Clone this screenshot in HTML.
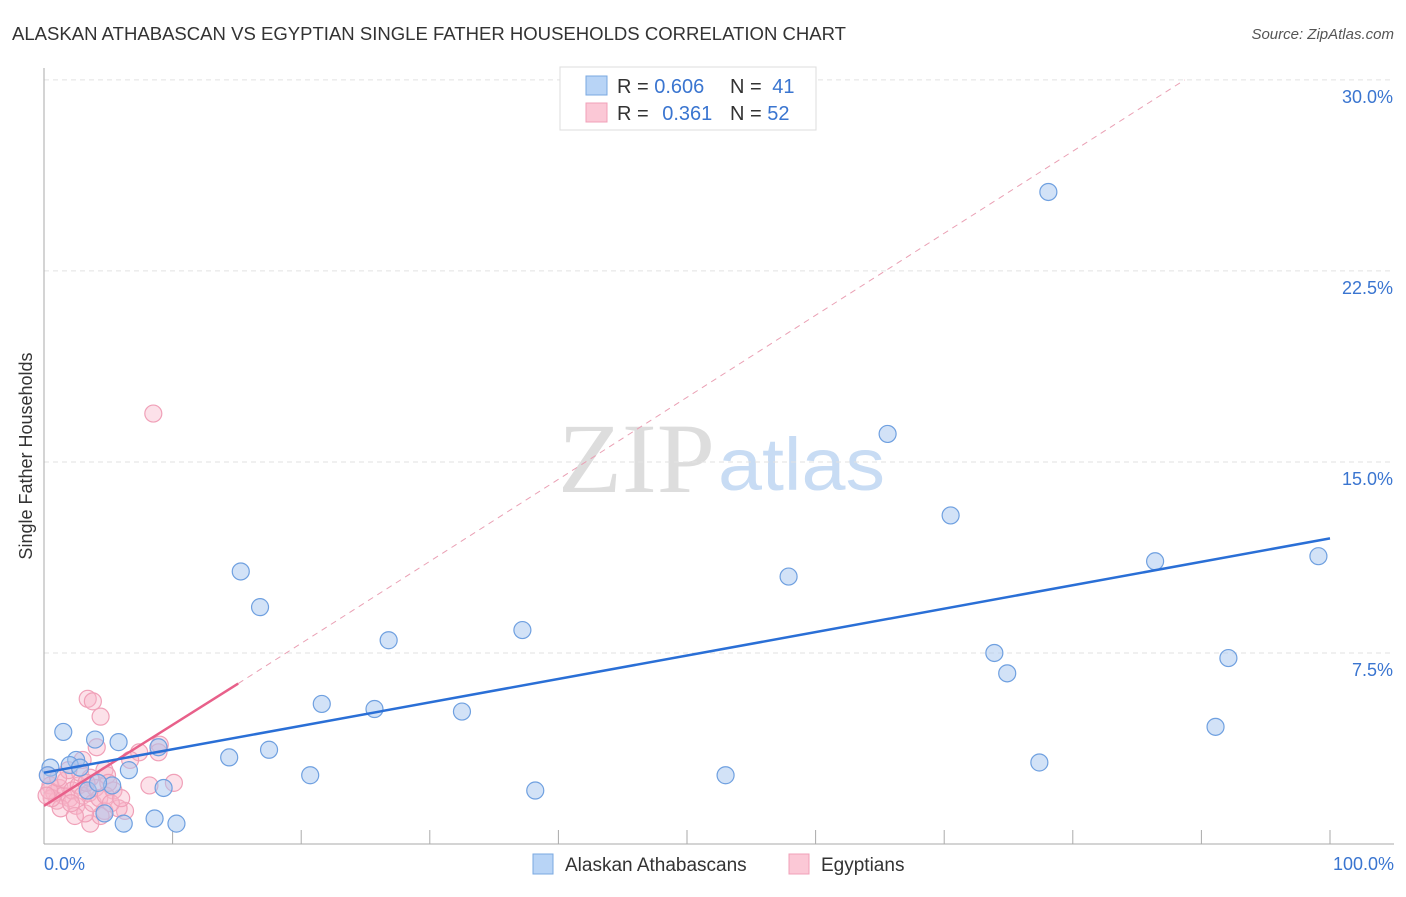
<!DOCTYPE html>
<html><head><meta charset="utf-8"><style>
body{margin:0;background:#fff;font-family:"Liberation Sans",sans-serif;}
svg text{font-family:"Liberation Sans",sans-serif;}
</style></head><body>
<svg id="chart" width="1406" height="892" viewBox="0 0 1406 892">
<text x="12" y="40" font-size="18" fill="#333" textLength="834" lengthAdjust="spacingAndGlyphs">ALASKAN ATHABASCAN VS EGYPTIAN SINGLE FATHER HOUSEHOLDS CORRELATION CHART</text>
<text x="1394" y="39" font-size="15" fill="#555" font-style="italic" text-anchor="end">Source: ZipAtlas.com</text>
<text x="34" y="456" font-size="18" fill="#333" text-anchor="middle" transform="rotate(-90 34 456)" dy="-2">Single Father Households</text>
<g>
<text x="558" y="492" font-size="100" fill="#ddd" textLength="157" lengthAdjust="spacingAndGlyphs" style="font-family:'Liberation Serif',serif">ZIP</text>
<text x="718" y="490" font-size="74" fill="#c8dcf4" textLength="167" lengthAdjust="spacingAndGlyphs">atlas</text>
</g>
<g id="grid"></g><g id="axes"></g><g id="marks"></g>
<g>
<rect x="560" y="67" width="256" height="63" fill="#fff" stroke="#ddd"/>
<rect x="586" y="76" width="21" height="19" fill="#b8d4f6" stroke="#7aa8e0"/>
<rect x="586" y="103" width="21" height="19" fill="#fbc8d6" stroke="#f0a0b8"/>
<text x="617" y="93" font-size="20" fill="#333">R = <tspan fill="#3a75d0">0.606</tspan></text>
<text x="730" y="93" font-size="20" fill="#333">N = <tspan fill="#3a75d0" dx="5">41</tspan></text>
<text x="617" y="120" font-size="20" fill="#333">R = <tspan fill="#3a75d0" dx="8">0.361</tspan></text>
<text x="730" y="120" font-size="20" fill="#333">N = <tspan fill="#3a75d0">52</tspan></text>
</g>
<g>
<rect x="533" y="854" width="20" height="20" fill="#b8d4f6" stroke="#7aa8e0"/>
<text x="565" y="871" font-size="19" fill="#333">Alaskan Athabascans</text>
<rect x="789" y="854" width="20" height="20" fill="#fbc8d6" stroke="#f0a0b8"/>
<text x="821" y="871" font-size="19" fill="#333">Egyptians</text>
</g>
</svg>
<script>
const yTicks=[7.5,15,22.5,30];
const yTickLabels=["7.5%","15.0%","22.5%","30.0%"];
const xTicks=[0,10,20,30,40,50,60,70,80,90,100];
const blueX=[78.1,65.6,70.5,86.4,99.1,57.9,15.3,16.8,26.8,37.2,73.9,74.9,92.1,21.6,25.7,32.5,91.1,14.4,17.5,20.7,53.0,77.4,38.2,1.5,3.97,5.8,8.9,6.6,2.5,0.5,2.0,2.8,3.4,5.3,4.2,9.3,4.7,6.2,8.6,10.3,0.3];
const blueY=[25.6,16.1,12.9,11.1,11.3,10.5,10.7,9.3,8.0,8.4,7.5,6.7,7.3,5.5,5.3,5.2,4.6,3.4,3.7,2.7,2.7,3.2,2.1,4.4,4.1,4.0,3.8,2.9,3.3,3.0,3.1,3.0,2.1,2.3,2.4,2.2,1.2,0.8,1.0,0.8,2.7];
const pinkX=[8.5,3.4,3.8,4.4,4.1,9.0,8.9,7.4,6.7,3.0,4.7,4.9,8.2,10.1,5.4,6.3,4.7,3.6,4.4,5.8,0.3,0.5,0.8,1.0,1.2,1.5,1.7,2.0,2.2,2.5,2.7,3.0,3.2,3.5,3.8,4.0,4.3,2.8,1.3,0.6,1.9,2.4,3.6,4.8,5.2,0.4,1.1,2.1,3.3,5.0,6.0,0.2];
const pinkY=[16.9,5.7,5.6,5.0,3.8,3.9,3.6,3.6,3.3,3.3,2.9,2.7,2.3,2.4,2.1,1.3,1.3,0.8,1.1,1.4,2.7,2.3,2.0,1.7,2.2,1.9,2.5,1.8,2.1,1.5,2.3,1.9,1.2,2.0,1.6,2.2,1.8,2.8,1.4,1.8,2.9,1.1,2.6,1.9,1.6,2.1,2.6,1.6,2.4,2.4,1.8,1.9];
const blueLine=[[0,2.8],[100,12.0]];
const pinkLine=[[0,1.5],[15.1,6.3]];
const pinkDash=[[15.1,6.3],[88.7,30]];
const X=v=>44+v*12.86, Y=v=>844-v*25.47;
const NS="http://www.w3.org/2000/svg";
function mk(p,t,a){const e=document.createElementNS(NS,t);for(const k in a)e.setAttribute(k,a[k]);p.appendChild(e);return e;}
const grid=document.getElementById('grid'),axes=document.getElementById('axes'),marks=document.getElementById('marks');
yTicks.forEach((v,i)=>{
 const l=mk(grid,'line',{x1:44,x2:1394,y1:Y(v),y2:Y(v),stroke:'#e2e2e2','stroke-dasharray':'5,4'});
 
 
 const t=mk(axes,'text',{x:1393,y:Y(v)+23,'font-size':18,fill:'#3a75d0','text-anchor':'end'});t.textContent=yTickLabels[i];
 
 
});
const ax=mk(axes,'line',{x1:44,x2:44,y1:68,y2:844,stroke:'#aaa'});


const bx=mk(axes,'line',{x1:44,x2:1394,y1:844,y2:844,stroke:'#aaa'});


xTicks.forEach(v=>{const t=mk(axes,'line',{x1:X(v),x2:X(v),y1:830,y2:844,stroke:'#aaa'});
 
 });
const xl0=mk(axes,'text',{x:44,y:870,'font-size':18,fill:'#3a75d0'});xl0.textContent='0.0%';


const xl1=mk(axes,'text',{x:1394,y:870,'font-size':18,fill:'#3a75d0','text-anchor':'end'});xl1.textContent='100.0%';


pinkX.forEach((v,i)=>{const c=mk(marks,'circle',{cx:X(v),cy:Y(pinkY[i]),r:8.5,fill:'rgba(248,180,200,0.4)',stroke:'#f0a0b8','stroke-width':1.2});
 
 });
blueX.forEach((v,i)=>{const c=mk(marks,'circle',{cx:X(v),cy:Y(blueY[i]),r:8.5,fill:'rgba(165,198,240,0.5)',stroke:'#6fa0e0','stroke-width':1.2});
 
 });
const pd=mk(marks,'line',{x1:X(pinkDash[0][0]),y1:Y(pinkDash[0][1]),x2:X(pinkDash[1][0]),y2:Y(pinkDash[1][1]),stroke:'#eaa0b4','stroke-width':1,'stroke-dasharray':'6,5'});


const pl=mk(marks,'line',{x1:X(pinkLine[0][0]),y1:Y(pinkLine[0][1]),x2:X(pinkLine[1][0]),y2:Y(pinkLine[1][1]),stroke:'#e8608a','stroke-width':2.5});


const bl=mk(marks,'line',{x1:X(blueLine[0][0]),y1:Y(blueLine[0][1]),x2:X(blueLine[1][0]),y2:Y(blueLine[1][1]),stroke:'#2a6fd6','stroke-width':2.5});


</script>
</body></html>
